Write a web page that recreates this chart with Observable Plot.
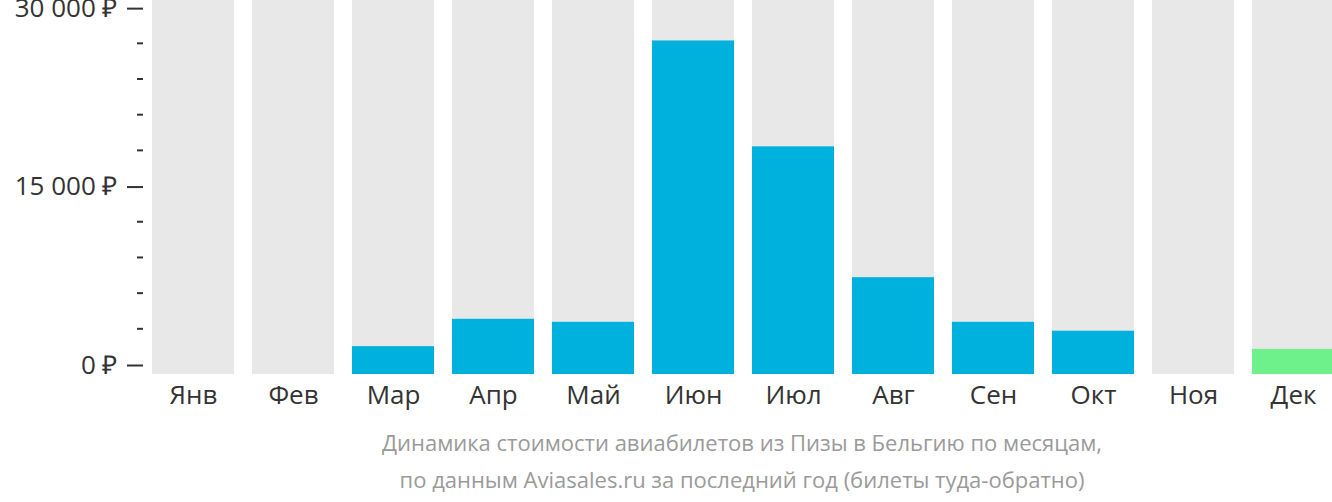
<!DOCTYPE html>
<html>
<head>
<meta charset="utf-8">
<script src="https://cdn.jsdelivr.net/npm/d3@7"></script>
<script src="https://cdn.jsdelivr.net/npm/@observablehq/plot@0.6"></script>
<style>
  html, body { margin: 0; padding: 0; background: #fff; overflow: hidden; }
  #chart svg { display: block; overflow: hidden; }
  .caption {
    width: 1180px; margin-left: 152px; text-align: center;
    font-family: "Open Sans", sans-serif; font-size: 22px; line-height: 37px;
    color: #9a9a9a; margin-top: 4px;
  }
</style>
</head>
<body>
<div id="chart"></div>
<div class="caption">Динамика стоимости авиабилетов из Пизы в Бельгию по месяцам,<br>по данным Aviasales.ru за последний год (билеты туда-обратно)</div>
<script>
const months = ["Янв","Фев","Мар","Апр","Май","Июн","Июл","Авг","Сен","Окт","Ноя","Дек"];
const prices = [null, null, 1500, 3800, 3550, 27200, 18300, 7300, 3550, 2800, null, 1270];
const majorTicks = [0, 15000, 30000];
const minorTicks = [3000, 6000, 9000, 12000, 18000, 21000, 24000, 27000];

const yMax = 30600;
const minPrice = d3.min(prices.filter(p => p != null));
const rows = months.map((m, i) => ({month: m, price: prices[i]}));
const present = rows.filter(d => d.price != null);
const fmt = v => d3.format(",")(v).replace(/,/g, " ") + " ₽";

const chart = Plot.plot({
  width: 1332,
  height: 420,
  marginLeft: 152,
  marginRight: 0,
  marginTop: 0,
  marginBottom: 56,
  style: {fontFamily: "'Open Sans', sans-serif", fontSize: "26px", color: "#333", background: "#fff"},
  x: {domain: months, range: [152, 1334], paddingInner: 0.18, paddingOuter: 0, align: 0, label: null},
  y: {domain: [0, yMax], label: null},
  marks: [
    Plot.barY(rows, {x: "month", y1: 0, y2: () => yMax, fill: "#e8e8e8", insetBottom: -10}),
    Plot.barY(present, {x: "month", y: "price", fill: d => d.price === minPrice ? "#6ef08a" : "#00b1dd", insetBottom: -10}),
    Plot.axisX({tickSize: 0, tickPadding: 21, fontSize: 26, fill: "#333", label: null}),
    Plot.axisY({ticks: majorTicks, tickSize: 16, tickPadding: 10, dx: -9, dy: 1, tickFormat: fmt, fontSize: 26, fill: "#333", stroke: "#333", strokeWidth: 2, label: null}),
    Plot.axisY({ticks: minorTicks, tickSize: 6, dx: -9, tickFormat: () => "", stroke: "#333", strokeWidth: 2, label: null})
  ]
});
document.getElementById("chart").appendChild(chart);
</script>
</body>
</html>
